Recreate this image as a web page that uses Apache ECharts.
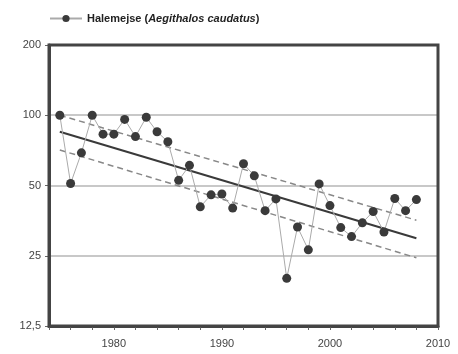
<!DOCTYPE html>
<html><head><meta charset="utf-8">
<script src="https://cdn.jsdelivr.net/npm/echarts@6/dist/echarts.min.js"></script>
<style>html,body{margin:0;padding:0;background:#fff}#c{width:458px;height:354px}</style>
</head><body><div id="c"></div>
<script>
const years = [1975,1976,1977,1978,1979,1980,1981,1982,1983,1984,1985,1986,1987,1988,1989,1990,1991,1992,1993,1994,1995,1996,1997,1998,1999,2000,2001,2002,2003,2004,2005,2006,2007,2008];
const index = [100,51,69,100,83,83,96,81,98,85,77,52.6,61,40.5,45.6,46,40,62,55,39,43.8,20,33.2,26.5,50.8,41,33,30.2,34.6,38.7,31.6,44,39,43.5];
const trendYears = [1975, 2008];
const trend = [85, 29.7];
const upper = [100, 35.5];
const lower = [71, 24.5];
const yTicks = [12.5, 25, 50, 100, 200];
const xLabels = [1980, 1990, 2000, 2010];
const seriesName = 'Halemejse';
const latinName = 'Aegithalos caudatus';

const zip = (a, b) => a.map((v, i) => [v, b[i]]);
const chart = echarts.init(document.getElementById('c'));
chart.setOption({
  animation: false,
  textStyle: {fontFamily: 'Liberation Sans, Arial, sans-serif'},
  legend: {
    data: [seriesName], left: 44, top: 8, itemWidth: 32, itemHeight: 9, itemGap: 6,
    formatter: n => '{b|' + n + ' (}{i|' + latinName + '}{b|)}',
    textStyle: {rich: {
      b: {fontWeight: 'bold', fontSize: 11, color: '#222', fontFamily: 'Liberation Sans'},
      i: {fontWeight: 'bold', fontStyle: 'italic', fontSize: 11, color: '#222', fontFamily: 'Liberation Sans'}
    }}
  },
  grid: {left: 49, right: 20, top: 45, bottom: 28, show: true, borderColor: '#444', borderWidth: 3, containLabel: false, z: 5},
  xAxis: {
    type: 'value', min: 1974, max: 2010, interval: 2,
    axisLine: {show: true, lineStyle: {color: '#444', width: 3}},
    axisTick: {show: true, inside: false, length: 4, lineStyle: {color: '#666', width: 1}},
    axisLabel: {color: '#444', fontSize: 11, margin: 12, formatter: v => xLabels.includes(v) ? String(v) : ''},
    splitLine: {show: false}
  },
  yAxis: {
    type: 'log', logBase: 2, min: 12.5, max: 200,
    axisLine: {show: true, lineStyle: {color: '#444', width: 3}},
    axisTick: {show: true, length: 4, customValues: yTicks, lineStyle: {color: '#666'}},
    axisLabel: {color: '#444', fontSize: 11, margin: 8, customValues: yTicks, formatter: v => String(v).replace('.', ',')},
    splitLine: {show: true, showMinLine: false, showMaxLine: false, lineStyle: {color: '#c8c8c8', width: 2}}
  },
  series: [
    {type: 'line', name: 'upper', data: zip(trendYears, upper), symbol: 'none', lineStyle: {color: '#888', width: 1.5, type: [6, 4]}, z: 2},
    {type: 'line', name: 'lower', data: zip(trendYears, lower), symbol: 'none', lineStyle: {color: '#888', width: 1.5, type: [6, 4]}, z: 2},
    {type: 'line', name: 'trend', data: zip(trendYears, trend), symbol: 'none', lineStyle: {color: '#3a3a3a', width: 2}, z: 3},
    {type: 'line', name: seriesName, data: zip(years, index), symbol: 'circle', symbolSize: 9,
      itemStyle: {color: '#3a3a3a'}, lineStyle: {color: '#aaa', width: 1}, z: 4}
  ]
});
</script></body></html>
